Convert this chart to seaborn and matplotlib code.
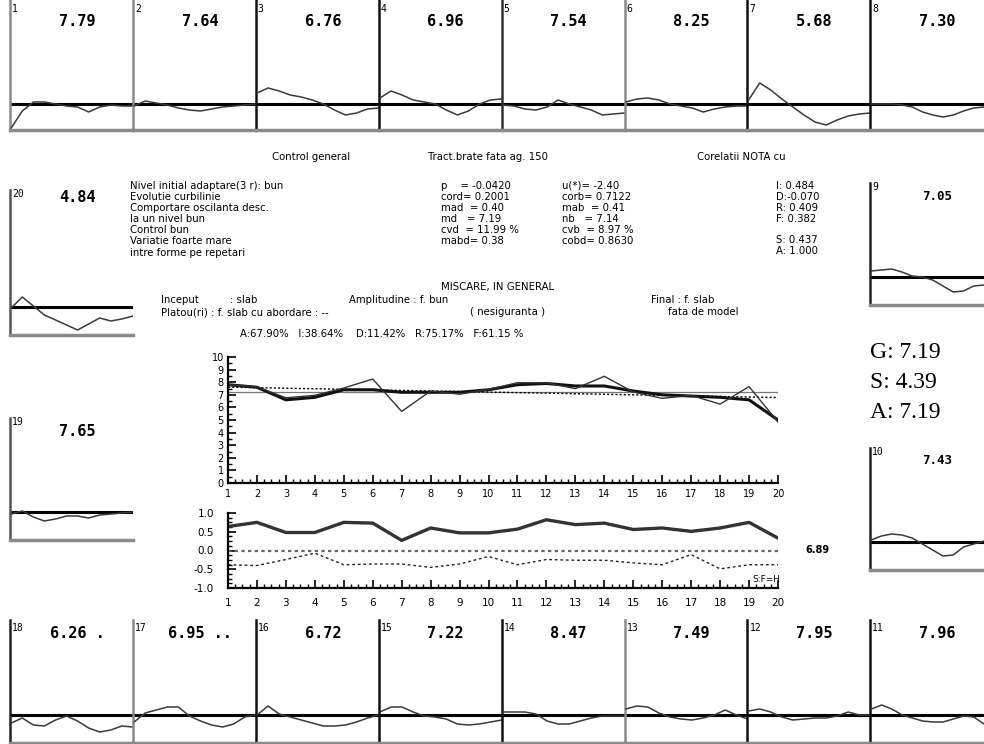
import numpy as np
import pandas as pd
import matplotlib
matplotlib.use('Agg')
import matplotlib.pyplot as plt
import seaborn as sns
from matplotlib.ticker import MultipleLocator

sns.set_theme(style='white')
plt.rcParams['font.family'] = ['DejaVu Sans']
plt.rcParams['text.color'] = 'black'
plt.rcParams['xtick.color'] = 'black'
plt.rcParams['ytick.color'] = 'black'

W, H = 984, 744

# ---------------- data ----------------
trials = list(range(1, 21))
trial_scores = [7.79, 7.64, 6.76, 6.96, 7.54, 8.25, 5.68, 7.30, 7.05, 7.43,
                7.96, 7.95, 7.49, 8.47, 7.22, 6.72, 6.95, 6.26, 7.65, 4.84]
smoothed_scores = [7.8, 7.6, 6.6, 6.8, 7.4, 7.4, 7.2, 7.2, 7.2, 7.4,
                   7.8, 7.9, 7.7, 7.7, 7.3, 7.0, 6.9, 6.8, 6.6, 5.0]
mean_score = 7.19
corr_upper = [0.64, 0.75, 0.48, 0.48, 0.75, 0.73, 0.27, 0.60, 0.47, 0.47,
              0.57, 0.82, 0.69, 0.73, 0.56, 0.60, 0.51, 0.60, 0.75, 0.33]
corr_lower = [-0.38, -0.40, -0.24, -0.07, -0.38, -0.36, -0.36, -0.45, -0.36, -0.16,
              -0.38, -0.24, -0.26, -0.26, -0.33, -0.38, -0.11, -0.49, -0.38, -0.38]
main_yticks = list(range(0, 11))
corr_yticks = [-1.0, -0.5, 0.0, 0.5, 1.0]
corr_yticklabels = ['-1.0', '-0.5', '0.0', '0.5', '1.0']

# per-trial waveforms (offset above the reference line, in px)
wave_1 = [-24, -7, 2, 2, 0, -2, -3, -8, -3, -1, -2, -2]
wave_2 = [-2, 3, 1, -1, -4, -6, -7, -5, -3, -2, -1, 0]
wave_3 = [11, 16, 13, 9, 7, 4, 0, -6, -11, -9, -5, -4]
wave_4 = [6, 13, 9, 4, 2, 0, -6, -11, -7, 0, 4, 5]
wave_5 = [-1, -2, -5, -6, -3, 4, 0, -3, -6, -11, -10, -9]
wave_6 = [2, 5, 6, 4, 0, -2, -4, -8, -5, -3, -2, -2]
wave_7 = [4, 21, 14, 5, -3, -11, -18, -21, -16, -12, -10, -9]
wave_8 = [0, 0, 0, -1, -3, -8, -11, -13, -11, -7, -4, -3]
wave_9 = [6, 7, 8, 5, 1, 0, -3, -9, -15, -14, -9, -8]
wave_10 = [2, 6, 8, 7, 4, -2, -8, -14, -13, -5, -2, 1]
wave_11 = [6, 10, 6, 0, -3, -6, -7, -7, -4, -1, -2, -9]
wave_12 = [4, 6, 3, -2, -5, -4, -3, -3, -1, 3, 0, 0]
wave_13 = [6, 9, 8, 2, -2, -4, -5, -3, 0, 5, 0, -4]
wave_14 = [3, 3, 3, 1, -6, -9, -9, -6, -3, -1, -1, -1]
wave_15 = [3, 8, 8, 3, -1, -2, -4, -9, -10, -9, -7, -5]
wave_16 = [0, 9, 1, -2, -5, -8, -11, -11, -10, -7, -3, 0]
wave_17 = [-7, 2, 5, 8, 8, -1, -6, -10, -12, -9, -2, 0]
wave_18 = [-8, -3, -10, -11, -5, -1, -6, -13, -17, -15, -11, -12]
wave_19 = [-2, 1, -5, -9, -7, -4, -4, -6, -3, -2, -1, 0]
wave_20 = [-1, 10, 1, -8, -13, -18, -23, -17, -11, -14, -12, -9]
waves = {1: wave_1, 2: wave_2, 3: wave_3, 4: wave_4, 5: wave_5, 6: wave_6,
         7: wave_7, 8: wave_8, 9: wave_9, 10: wave_10, 11: wave_11, 12: wave_12,
         13: wave_13, 14: wave_14, 15: wave_15, 16: wave_16, 17: wave_17,
         18: wave_18, 19: wave_19, 20: wave_20}
value_suffix = {18: ' .', 17: ' ..'}

info_left = ["Nivel initial adaptare(3 r): bun", "Evolutie curbilinie",
             "Comportare oscilanta desc.", "la un nivel bun", "Control bun",
             "Variatie foarte mare", "intre forme pe repetari"]
info_col2 = ["p    = -0.0420", "cord= 0.2001", "mad  = 0.40", "md   = 7.19",
             "cvd  = 11.99 %", "mabd= 0.38"]
info_col3 = ["u(*)= -2.40", "corb= 0.7122", "mab  = 0.41", "nb   = 7.14",
             "cvb  = 8.97 %", "cobd= 0.8630"]
info_col4 = ["I: 0.484", "D:-0.070", "R: 0.409", "F: 0.382", "S: 0.437", "A: 1.000"]
summary_lines = ["G: 7.19", "S: 4.39", "A: 7.19"]

# ---------------- figure ----------------
fig = plt.figure(figsize=(9.84, 7.44), dpi=100)
fig.patch.set_facecolor('white')


def px_axes(l, t, w, h):
    return fig.add_axes([l / W, 1 - (t + h) / H, w / W, h / H])


def px_text(x, y, s, **kw):
    kw.setdefault('va', 'center')
    kw.setdefault('color', 'black')
    fig.text(x / W, 1 - y / H, s, **kw)


def small_panel(pid, left, top, width, height, below, spine_color, value_size=11,
                num_dy=9, val_dy=22):
    ax = px_axes(left, top, width, height)
    wv = waves[pid]
    xs = np.linspace(0.01, 1.0, len(wv))
    df = pd.DataFrame({'x': xs, 'y': wv})
    ax.axhline(0, color='black', lw=2.2, zorder=2)
    sns.lineplot(data=df, x='x', y='y', ax=ax, color='#3a3a3a', lw=1.1, zorder=3)
    ax.set_ylim(-below, height - below)
    ax.set_xlim(0, 1.0)
    for s in ['top', 'right']:
        ax.spines[s].set_visible(False)
    ax.spines['left'].set_color(spine_color)
    ax.spines['left'].set_linewidth(1.8)
    ax.spines['bottom'].set_color('#8a8a8a')
    ax.spines['bottom'].set_linewidth(2.5)
    ax.set_xticks([]); ax.set_yticks([])
    ax.set_xlabel(''); ax.set_ylabel('')
    ax.patch.set_alpha(0)
    px_text(left + 2, top + num_dy, str(pid), fontsize=7, family='DejaVu Sans Mono')
    txt = f"{trial_scores[pid - 1]:.2f}" + value_suffix.get(pid, '')
    px_text(left + 67, top + val_dy, txt, ha='center', fontsize=value_size,
            fontweight='bold', family='DejaVu Sans Mono')
    return ax


top_ids = [1, 2, 3, 4, 5, 6, 7, 8]
top_colors = ['#8a8a8a', '#8a8a8a', '#111111', '#111111', '#333333', '#8a8a8a', '#111111', '#111111']
bot_ids = [18, 17, 16, 15, 14, 13, 12, 11]
bot_colors = ['#222222', '#8a8a8a', '#111111', '#111111', '#111111', '#8a8a8a', '#111111', '#111111']
pw = 122.9
for i, pid in enumerate(top_ids):
    l = 10 + i * pw
    w = min(pw, W - l)
    small_panel(pid, l, 0, w, 130, 26, top_colors[i], num_dy=9, val_dy=22)
for i, pid in enumerate(bot_ids):
    l = 10 + i * pw
    w = min(pw, W - l)
    small_panel(pid, l, 620, w, 123, 28, bot_colors[i], num_dy=8, val_dy=14)

small_panel(20, 10, 190, pw, 145, 28, '#555555', num_dy=4, val_dy=8)
small_panel(19, 10, 418, pw, 122, 28, '#555555', num_dy=4, val_dy=13)
small_panel(9, 870, 183, W - 870, 122, 28, '#222222', value_size=9, num_dy=4, val_dy=13)
small_panel(10, 870, 448, W - 870, 122, 28, '#222222', value_size=9, num_dy=4, val_dy=12)

# ---------------- main chart ----------------
ax = px_axes(228, 357, 550, 126)
df_main = pd.DataFrame({'trial': trials, 'score': trial_scores, 'smooth': smoothed_scores})
ax.axhline(mean_score, color='#777777', lw=0.9, zorder=1)
sns.regplot(data=df_main, x='trial', y='score', ax=ax, scatter=False, ci=None,
            truncate=True, line_kws=dict(color='black', lw=1.0, ls=(0, (1.5, 1.5))))
sns.lineplot(data=df_main, x='trial', y='smooth', ax=ax, color='#111111', lw=2.2)
sns.lineplot(data=df_main, x='trial', y='score', ax=ax, color='#333333', lw=1.0)
ax.set_xlim(1, 20)
ax.set_ylim(0, 10)
ax.set_xticks(trials)
ax.set_xticklabels([str(t) for t in trials])
ax.set_yticks(main_yticks)
ax.xaxis.set_minor_locator(MultipleLocator(0.25))
ax.yaxis.set_minor_locator(MultipleLocator(0.5))
ax.tick_params(axis='both', which='major', direction='in', length=6, width=1.2,
               labelsize=7, colors='black', pad=4, bottom=True, left=True)
ax.tick_params(axis='both', which='minor', direction='in', length=3, width=1.0,
               bottom=True, left=True)
ax.tick_params(axis='y', pad=3)
for s in ['top', 'right']:
    ax.spines[s].set_visible(False)
for s in ['left', 'bottom']:
    ax.spines[s].set_color('black')
    ax.spines[s].set_linewidth(1.6)
ax.set_xlabel(''); ax.set_ylabel('')
ax.patch.set_alpha(0)

# ---------------- correlation chart ----------------
ax2 = px_axes(228, 513, 550, 75)
df_corr = pd.DataFrame({'trial': trials, 'up': corr_upper, 'low': corr_lower})
ax2.axhline(0.0, color='#666666', lw=1.6, ls=(0, (1.5, 1.5)))
sns.lineplot(data=df_corr, x='trial', y='up', ax=ax2, color='#333333', lw=2.4)
sns.lineplot(data=df_corr, x='trial', y='low', ax=ax2, color='#222222', lw=1.0,
             ls=(0, (2, 2)))
ax2.set_xlim(1, 20)
ax2.set_ylim(-1, 1)
ax2.set_xticks(trials)
ax2.set_xticklabels([str(t) for t in trials])
ax2.set_yticks(corr_yticks)
ax2.set_yticklabels(corr_yticklabels)
ax2.xaxis.set_minor_locator(MultipleLocator(0.25))
ax2.yaxis.set_minor_locator(MultipleLocator(0.125))
ax2.tick_params(axis='both', which='major', direction='in', length=6, width=1.2,
                labelsize=7.5, colors='black', pad=7, bottom=True, left=True)
ax2.tick_params(axis='y', pad=10)
ax2.tick_params(axis='both', which='minor', direction='in', length=3, width=1.0,
                bottom=True, left=True)
for s in ['top', 'right']:
    ax2.spines[s].set_visible(False)
for s in ['left', 'bottom']:
    ax2.spines[s].set_color('black')
    ax2.spines[s].set_linewidth(1.6)
ax2.set_xlabel(''); ax2.set_ylabel('')
ax2.patch.set_alpha(0)

px_text(805, 550, "6.89", fontsize=7, fontweight='bold')
px_text(752, 580, "S:F=H", fontsize=6.5)

# ---------------- text blocks ----------------
fs = 7.3
px_text(272, 157, "Control general", fontsize=fs)
px_text(428, 157, "Tract.brate fata ag. 150", fontsize=fs)
px_text(697, 157, "Corelatii NOTA cu", fontsize=fs)
for k, s in enumerate(info_left):
    px_text(130, 186 + k * 11.1, s, fontsize=fs)
for k, s in enumerate(info_col2):
    px_text(441, 186 + k * 11.1, s, fontsize=fs)
for k, s in enumerate(info_col3):
    px_text(562, 186 + k * 11.1, s, fontsize=fs)
col4_y = [186, 197, 208, 219, 240, 251]
for s, y in zip(info_col4, col4_y):
    px_text(776, y, s, fontsize=fs)
px_text(441, 287, "MISCARE, IN GENERAL", fontsize=fs)
px_text(161, 300, "Inceput", fontsize=fs)
px_text(230, 300, ": slab", fontsize=fs)
px_text(349, 300, "Amplitudine : f. bun", fontsize=fs)
px_text(651, 300, "Final : f. slab", fontsize=fs)
px_text(161, 312, "Platou(ri) : f. slab cu abordare : --", fontsize=fs)
px_text(470, 312, "( nesiguranta )", fontsize=fs)
px_text(668, 312, "fata de model", fontsize=fs)
px_text(240, 334, "A:67.90%   I:38.64%    D:11.42%   R:75.17%   F:61.15 %", fontsize=fs)

for k, s in enumerate(summary_lines):
    px_text(870, 352 + k * 30.5, s, fontsize=17, family='Liberation Serif')

fig.savefig('out.png', dpi=100, facecolor='white')
